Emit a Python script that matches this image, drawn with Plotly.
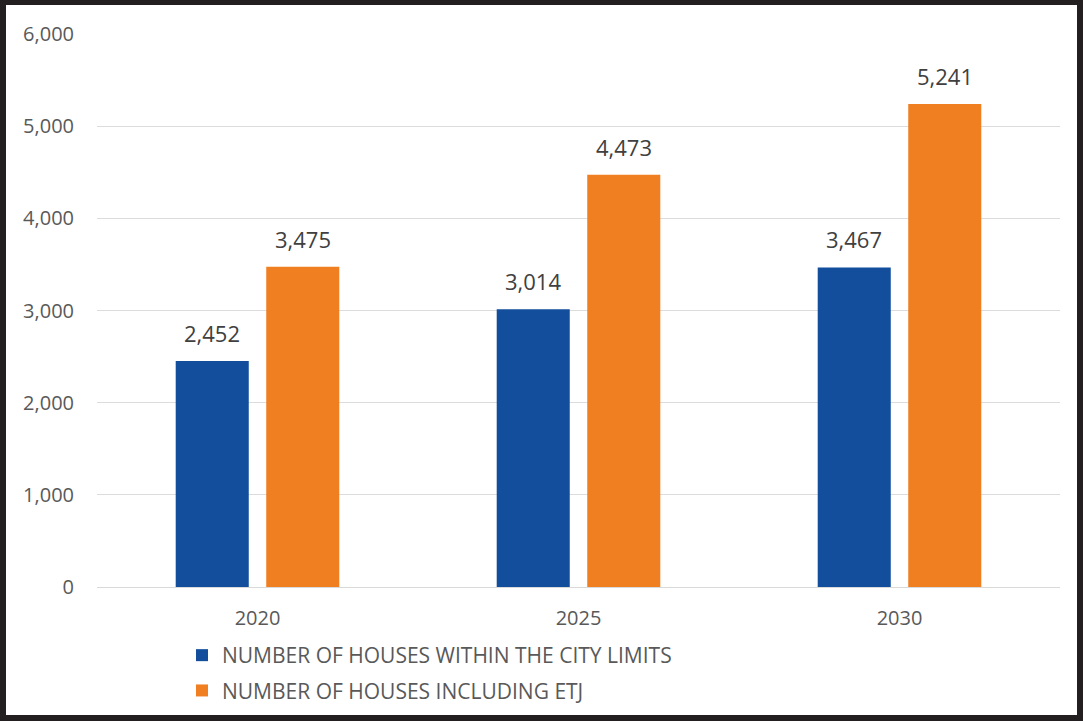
import plotly.graph_objects as go

years = ["2020", "2025", "2030"]
city_limits = [2452, 3014, 3467]
including_etj = [3475, 4473, 5241]
series_names = ["NUMBER OF HOUSES WITHIN THE CITY LIMITS", "NUMBER OF HOUSES INCLUDING ETJ"]
y_ticks = [0, 1000, 2000, 3000, 4000, 5000, 6000]

W, H = 1083, 721
L, R, T, B = 97, 23, 34, 134
pw, ph = W - L - R, H - T - B
BARGAP, BARGROUPGAP = 0.436, 0.193

font_family = "Open Sans, Liberation Sans, sans-serif"
text_color = "#595959"
label_color = "#404040"
colors = ["#124E9B", "#F07F22"]

fig = go.Figure()
for gi, (name, vals, col) in enumerate(zip(series_names, [city_limits, including_etj], colors)):
    fig.add_trace(go.Bar(x=years, y=vals, name=name, legendgroup=f"g{gi}",
                         marker=dict(color=col, line=dict(width=0))))

# value labels above bars (category axis: annotation x given as category index)
cat_px = pw / len(years)
slot_px = cat_px * (1 - BARGAP) / 2
for i, vals in enumerate([city_limits, including_etj]):
    shift = (i - 0.5) * slot_px
    for idx, v in enumerate(vals):
        fig.add_annotation(x=idx, y=v, xref="x", yref="y", text=f"{v:,}", showarrow=False,
                           xshift=shift, yshift=11, yanchor="bottom",
                           font=dict(size=22, color=label_color, family=font_family))

def px_x(p):
    return (p - L) / pw
def px_y(p):
    return 1 - (p - T) / ph

# black frame around the whole picture
fig.add_shape(type="rect", xref="paper", yref="paper",
              x0=px_x(3), x1=px_x(W - 3), y0=px_y(H - 3), y1=px_y(2),
              line=dict(color="#231F20", width=6), fillcolor="rgba(0,0,0,0)", layer="above")

fig.update_layout(
    width=W, height=H,
    margin=dict(l=L, r=R, t=T, b=B, autoexpand=False),
    paper_bgcolor="white", plot_bgcolor="white",
    barmode="group", bargap=BARGAP, bargroupgap=BARGROUPGAP,
    font=dict(family=font_family, size=20, color=text_color),
    showlegend=True,
    legend=dict(orientation="v", x=px_x(182), y=px_y(635), xanchor="left", yanchor="top",
                font=dict(size=21, color=text_color), traceorder="grouped", tracegroupgap=5,
                itemwidth=30, bgcolor="rgba(0,0,0,0)"),
    yaxis=dict(range=[0, 6000], tickvals=y_ticks, tickformat=",", showgrid=True,
               gridcolor="#DCDCDC", gridwidth=1, zeroline=True, zerolinecolor="#D9D9D9",
               zerolinewidth=1, ticks="", ticklabelstandoff=22, showline=False),
    xaxis=dict(type="category", range=[-0.5, len(years) - 0.5], showline=False, ticks="",
               ticklabelstandoff=17),
)

fig.write_html("out.html")
